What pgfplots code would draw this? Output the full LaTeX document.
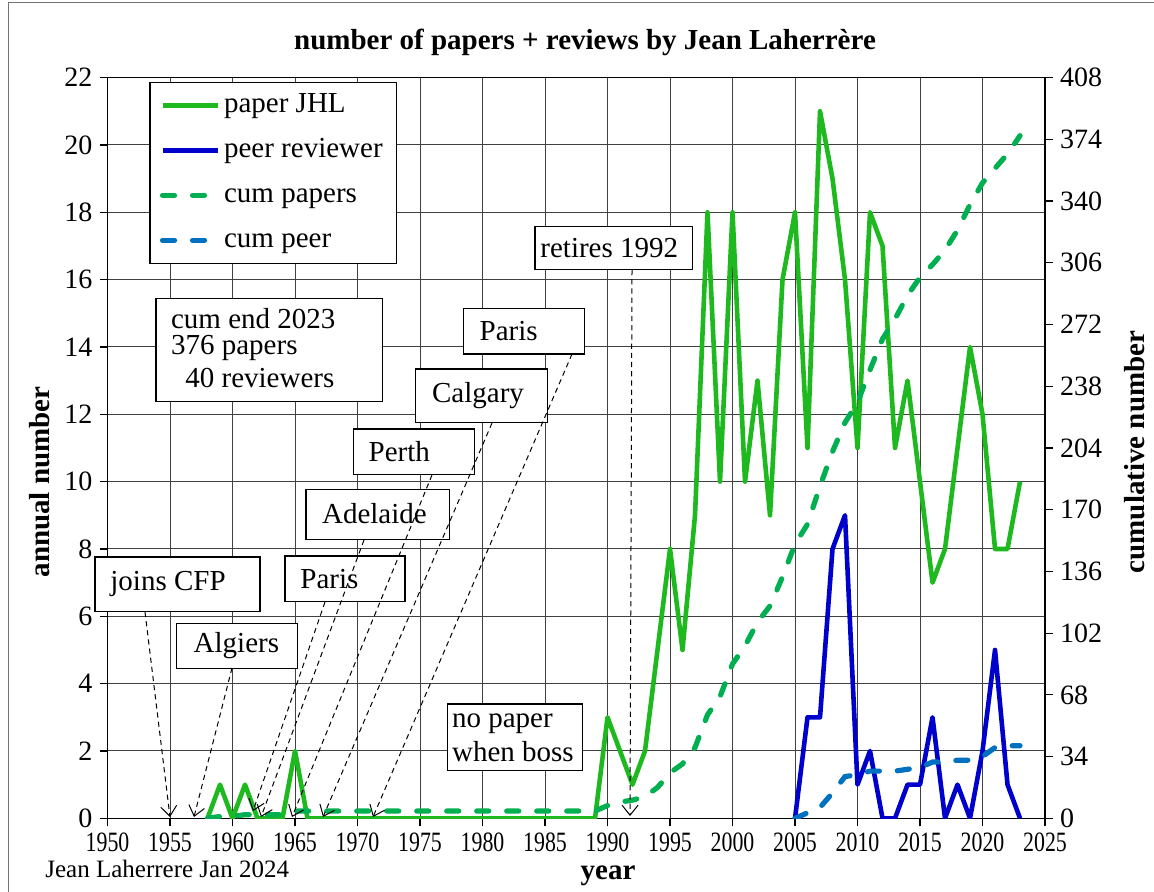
\documentclass[border=0pt]{standalone}
\usepackage{graphicx}
\usepackage{pgfplots}
\pgfplotsset{compat=1.18}
\usepackage{pgfplotstable}
\usepackage{fontspec}
\setmainfont{Liberation Serif}
\usetikzlibrary{arrows.meta}
\definecolor{papgreen}{RGB}{30,185,30}
\definecolor{cumgreen}{RGB}{0,176,80}
\definecolor{peerblue}{RGB}{0,0,205}
\definecolor{cumblue}{RGB}{0,112,192}
\newcommand\fs{\fontsize{14.5}{17}\selectfont}

\pgfplotstableread{
year n cum
1958 0 0
1959 1 1
1960 0 1
1961 1 2
1962 0 2
1963 0 2
1964 0 2
1965 2 4
1966 0 4
1967 0 4
1968 0 4
1969 0 4
1970 0 4
1971 0 4
1972 0 4
1973 0 4
1974 0 4
1975 0 4
1976 0 4
1977 0 4
1978 0 4
1979 0 4
1980 0 4
1981 0 4
1982 0 4
1983 0 4
1984 0 4
1985 0 4
1986 0 4
1987 0 4
1988 0 4
1989 0 4
1990 3 7
1991 2 9
1992 1 10
1993 2 12
1994 5 17
1995 8 25
1996 5 30
1997 9 39
1998 18 57
1999 10 67
2000 18 85
2001 10 95
2002 13 108
2003 9 117
2004 16 133
2005 18 151
2006 11 162
2007 21 183
2008 19 202
2009 16 218
2010 11 229
2011 18 247
2012 17 264
2013 11 275
2014 13 288
2015 10 298
2016 7 305
2017 8 313
2018 11 324
2019 14 338
2020 12 350
2021 8 358
2022 8 366
2023 10 376
}\papers

\pgfplotstableread{
year n cum
2005 0 0
2006 3 3
2007 3 6
2008 8 14
2009 9 23
2010 1 24
2011 2 26
2012 0 26
2013 0 26
2014 1 27
2015 1 28
2016 3 31
2017 0 31
2018 1 32
2019 0 32
2020 2 34
2021 5 39
2022 1 40
2023 0 40
}\peer

\pgfplotsset{
  papstyle/.style={papgreen, line width=2.3pt, line join=round},
  peerstyle/.style={peerblue, line width=2.3pt, line join=round},
  cpapstyle/.style={cumgreen, line width=2.6pt, line cap=round, dash pattern=on 6pt off 9pt},
  cpeerstyle/.style={cumblue, line width=2.6pt, line cap=round, dash pattern=on 6pt off 9pt},
  common/.style={
    at={(53.75pt,-409.15pt)}, anchor=south west,
    scale only axis, width=468.75pt, height=370.35pt,
    xmin=1950, xmax=2025,
    tick align=outside, major tick length=4pt,
    tick style={black, line width=0.6pt},
    axis line style={black, line width=0.6pt},
  },
}

\begin{document}
\begin{tikzpicture}
\begin{scope}[x=0.5pt,y=-0.5pt]
\useasboundingbox (0,0) rectangle (1154,892);
\draw[black!55, line width=0.5pt] (8,892) -- (8,3) -- (1154,3);
\end{scope}

\begin{axis}[common,
  ymin=0, ymax=22,
  xtick={1950,1955,...,2025}, ytick={0,2,...,22},
  xtick pos=bottom, ytick pos=left,
  grid=major, major grid style={black!75, line width=0.5pt},
  xticklabel style={font=\fontsize{14}{16}\selectfont, inner sep=1pt, yshift=-2pt},
  yticklabel style={font=\fontsize{14}{16}\selectfont, /pgf/number format/assume math mode=true},
  xticklabel={\scalebox{0.78}[1]{\pgfmathprintnumber[assume math mode=true,1000 sep={}]{\tick}}},
]
\addplot[papstyle] table[x=year,y=n]{\papers};
\addplot[peerstyle] table[x=year,y=n]{\peer};
\end{axis}

\begin{axis}[common,
  ymin=0, ymax=408, ytick={0,34,...,408},
  axis x line=none, axis y line*=right, ytick pos=right,
  yticklabel style={font=\fontsize{14}{16}\selectfont, /pgf/number format/assume math mode=true},
  legend style={at={(0.0446,0.9945)}, anchor=north west, draw=black, line width=0.6pt, fill=white,
    font=\fs, row sep=5.5pt, inner xsep=5pt, inner ysep=3pt,
    nodes={inner sep=2pt, text height=10pt, text depth=3pt}, cells={anchor=west}},
  legend image code/.code={\draw[#1] (0pt,0pt) -- (27.5pt,0pt);},
]
\addlegendimage{papstyle}
\addlegendentry{paper JHL}
\addlegendimage{peerstyle}
\addlegendentry{peer reviewer}
\addplot[cpapstyle] table[x=year,y=cum]{\papers};
\addlegendentry{cum papers}
\addplot[cpeerstyle] table[x=year,y=cum]{\peer};
\addlegendentry{cum peer}
\end{axis}

\begin{scope}[x=0.5pt,y=-0.5pt]
% titles
\node[font=\bfseries\fs] at (585,42) {number of papers + reviews by Jean Laherrère};
\node[font=\bfseries\fs, rotate=90] at (40,482) {annual number};
\node[font=\bfseries\fs, rotate=90] at (1135,452) {cumulative number};
\node[font=\bfseries\fs, inner sep=0pt] at (608,876) {year};
\node[font=\fontsize{12.5}{14}\selectfont, anchor=west, inner sep=0] at (45,869) {Jean Laherrere Jan 2024};
% boxes
\tikzset{bx/.style={draw=black, fill=white, line width=0.6pt}, tx/.style={anchor=west, inner sep=0, font=\fs}}
\path[bx] (156,298.3) rectangle (382.7,401.7);
\node[tx] at (170.7,318.3) {cum end 2023};
\node[tx] at (170.7,348.3) {376 papers};
\node[tx] at (185,378.3) {40 reviewers};
\path[bx] (535,226.7) rectangle (692.7,269.3);
\node[tx] at (540,248) {retires 1992};
\path[bx] (463.3,308.3) rectangle (584.3,354);
\node[tx] at (479.3,331) {Paris};
\path[bx] (415.7,369) rectangle (547.3,422.7);
\node[tx] at (431.7,396) {Calgary};
\path[bx] (353.3,429) rectangle (474.3,474.3);
\node[tx] at (368.3,452) {Perth};
\path[bx] (306,489.3) rectangle (449.3,539.3);
\node[tx] at (321.7,514) {Adelaide};
\path[bx] (285,556) rectangle (405,601.7);
\node[tx] at (300,579) {Paris};
\path[bx] (95,557) rectangle (260,611.7);
\node[tx] at (110,584) {joins CFP};
\path[bx] (176.7,623.3) rectangle (297.3,668.3);
\node[tx] at (193.3,646) {Algiers};
\path[bx] (447.3,704) rectangle (582.3,770.7);
\node[tx] at (451.7,723.3) {no paper};
\node[tx] at (451.7,751.7) {when boss};
% arrows
\tikzset{ar/.style={black, line width=0.5pt, dash pattern=on 2.6pt off 2pt, -{Straight Barb[length=5pt,width=8pt]}}}
\draw[ar] (145,612) -- (170,817);
\draw[ar] (232,668) -- (194,817);
\draw[ar] (325,602) -- (253,811);
\draw[ar] (364,540) -- (261,817);
\draw[ar] (432,475) -- (292,817);
\draw[ar] (492,423) -- (323,817);
\draw[ar] (572,354) -- (373,817);
\draw[ar] (632,270) -- (630,816);
\end{scope}
\end{tikzpicture}
\end{document}
